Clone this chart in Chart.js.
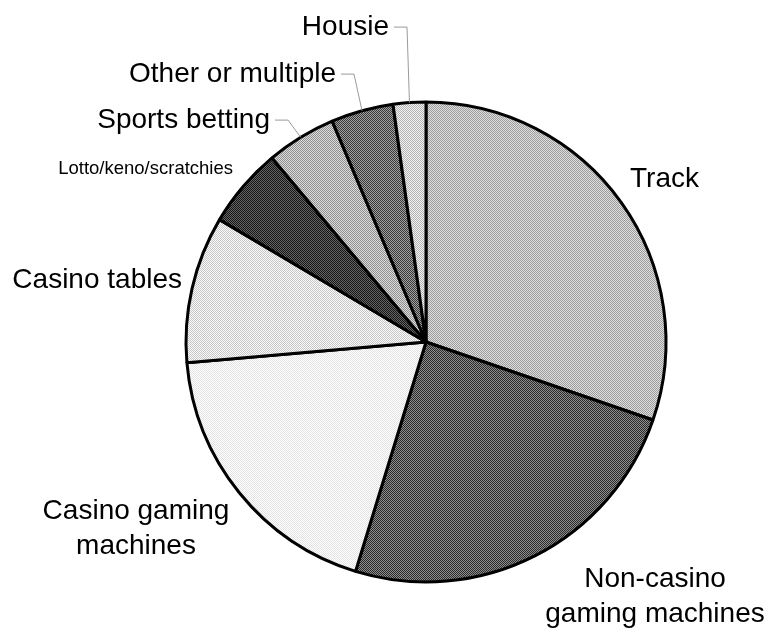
<!DOCTYPE html>
<html>
<head>
<meta charset="utf-8">
<title>Gambling activity share</title>
<script src="https://cdn.jsdelivr.net/npm/chart.js@4/dist/chart.umd.min.js"></script>
<style>
  html, body { margin: 0; padding: 0; background: #ffffff; }
  #wrap { width: 766px; height: 633px; position: relative; }
</style>
</head>
<body>
<div id="wrap"><canvas id="pie" width="766" height="633"></canvas></div>
<script>
// Categories, clockwise from 12 o'clock
const categories = [
  'Track',
  'Non-casino gaming machines',
  'Casino gaming machines',
  'Casino tables',
  'Lotto/keno/scratchies',
  'Sports betting',
  'Other or multiple',
  'Housie'
];

// Share of each activity (%)
const shares = [30.3, 24.5, 18.9, 9.9, 5.4, 4.7, 4.2, 2.2];

// Text lines drawn for each slice
const labelLines = [
  ['Track'],
  ['Non-casino', 'gaming machines'],
  ['Casino gaming', 'machines'],
  ['Casino tables'],
  ['Lotto/keno/scratchies'],
  ['Sports betting'],
  ['Other or multiple'],
  ['Housie']
];

// Two-tone dither fills (dark, light) giving each slice its grey level
const ditherTones = [
  ['#9c9c9c', '#dedede'],
  ['#2c2c2c', '#8c8c8c'],
  ['#e2e2e2', '#ffffff'],
  ['#c6c6c6', '#fbfbfb'],
  ['#141414', '#666666'],
  ['#8e8e8e', '#dcdcdc'],
  ['#383838', '#a2a2a2'],
  ['#b2b2b2', '#f2f2f2']
];

// Label placement relative to the pie centre (px): x, first baseline, alignment,
// and whether a leader line joins the label to its slice
const labelPlacement = [
  { dx: 204,  base: -155, align: 'left',   leader: false },
  { dx: 229,  base: 245,  align: 'center', leader: false },
  { dx: -290, base: 177,  align: 'center', leader: false },
  { dx: -244, base: -54,  align: 'right',  leader: false },
  { dx: -193, base: -168, align: 'right',  leader: false, small: true },
  { dx: -156, base: -214, align: 'right',  leader: true },
  { dx: -90,  base: -260, align: 'right',  leader: true },
  { dx: -37,  base: -307, align: 'right',  leader: true }
];

function makeDither(dark, light) {
  const c = document.createElement('canvas');
  c.width = 2; c.height = 2;
  const g = c.getContext('2d');
  g.fillStyle = light; g.fillRect(0, 0, 2, 2);
  g.fillStyle = dark; g.fillRect(0, 0, 1, 1); g.fillRect(1, 1, 1, 1);
  return g.createPattern(c, 'repeat');
}

const fills = ditherTones.map(t => makeDither(t[0], t[1]));

const sliceLabels = {
  id: 'sliceLabels',
  afterDatasetsDraw(chart) {
    const ctx = chart.ctx;
    const arcs = chart.getDatasetMeta(0).data;
    ctx.save();
    arcs.forEach((arc, i) => {
      const p = labelPlacement[i];
      const cx = arc.x, cy = arc.y;
      const size = p.small ? 18.5 : 28;
      const lineH = 35;
      ctx.font = size + 'px "Liberation Sans", Arial, sans-serif';
      ctx.fillStyle = '#000000';
      ctx.textAlign = p.align;
      ctx.textBaseline = 'alphabetic';
      const tx = cx + p.dx;
      const ty = cy + p.base;
      labelLines[i].forEach((line, k) => ctx.fillText(line, tx, ty + k * lineH));

      if (p.leader) {
        const mid = (arc.startAngle + arc.endAngle) / 2;
        const ex = cx + Math.cos(mid) * arc.outerRadius;
        const ey = cy + Math.sin(mid) * arc.outerRadius;
        const ly = ty - size * 0.3;
        const sx = tx + 5;
        const kx = sx + 13;
        ctx.strokeStyle = '#9a9a9a';
        ctx.lineWidth = 1;
        ctx.beginPath();
        ctx.moveTo(sx, ly + 0.5);
        ctx.lineTo(kx, ly + 0.5);
        ctx.lineTo(ex, ey);
        ctx.stroke();
      }
    });
    ctx.restore();
  }
};

new Chart(document.getElementById('pie'), {
  type: 'pie',
  data: {
    labels: categories,
    datasets: [{
      data: shares,
      backgroundColor: fills,
      borderColor: '#000000',
      borderWidth: 3,
      hoverOffset: 0
    }]
  },
  options: {
    responsive: false,
    animation: false,
    events: [],
    layout: { padding: { left: 184.5, right: 98.5, top: 100.5, bottom: 49.5 } },
    plugins: {
      legend: { display: false },
      tooltip: { enabled: false },
      title: { display: false }
    }
  },
  plugins: [sliceLabels]
});
</script>
</body>
</html>
